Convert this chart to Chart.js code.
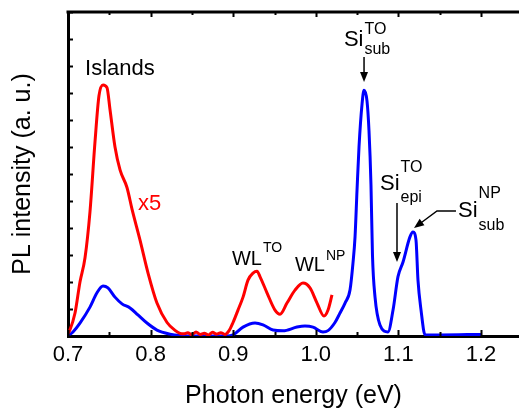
<!DOCTYPE html>
<html>
<head>
<meta charset="utf-8">
<script src="https://cdn.jsdelivr.net/npm/chart.js@4.4.0/dist/chart.umd.min.js"></script>
<style>
    html, body { margin: 0; padding: 0; background: #fff; }
</style>
</head>
<body>
<canvas id="plChart" width="519" height="409"></canvas>
<script>
// #############################################################################
// Data

// Islands + wetting layer, magnified x5 (red)
const redEnergy = [
    0.700, 0.702, 0.7085, 0.7145, 0.7206, 0.7266, 0.7327, 0.7375, 0.7424, 0.7472,
    0.7508, 0.7569, 0.763, 0.7714, 0.7775, 0.7872, 0.7969, 0.8077, 0.8199, 0.830,
    0.8356, 0.840, 0.845, 0.850, 0.855, 0.860, 0.865, 0.870, 0.875, 0.880,
    0.885, 0.890, 0.895, 0.8998, 0.9058, 0.9119, 0.9179, 0.924, 0.9288, 0.9324,
    0.9409, 0.9506, 0.9567, 0.9651, 0.9748, 0.9845, 0.993, 1.0015, 1.0099, 1.0148,
    1.0196,
];
const redIntensity = [
    0.1, 0.2, 0.85, 2.0, 2.9, 4.6, 7.2, 8.9, 9.3, 9.2,
    8.4, 7.0, 6.15, 5.5, 4.7, 3.55, 2.33, 1.22, 0.5, 0.2,
    0.1, 0.08, 0.12, 0.05, 0.15, 0.06, 0.1, 0.04, 0.14, 0.07,
    0.12, 0.06, 0.2, 0.5, 0.96, 1.44, 2.07, 2.33, 2.4, 2.2,
    1.6, 0.96, 0.81, 1.22, 1.7, 1.96, 1.78, 1.22, 0.74, 0.96,
    1.52,
];

// Full spectrum (blue)
const blueEnergy = [
    0.700, 0.706, 0.7145, 0.7266, 0.7351, 0.7424, 0.7484, 0.7569, 0.7654, 0.7751,
    0.7847, 0.7956, 0.8077, 0.8235, 0.8356, 0.860, 0.8925, 0.8998, 0.9119, 0.9264,
    0.9361, 0.9482, 0.9603, 0.9772, 0.9869, 0.9966, 1.0087, 1.0148, 1.0232, 1.0293,
    1.0354, 1.0414, 1.045, 1.0475, 1.0499, 1.0523, 1.056, 1.0584, 1.062, 1.0644,
    1.0668, 1.0686, 1.0717, 1.0777, 1.0874, 1.0935, 1.0995, 1.1056, 1.114, 1.1177,
    1.1213, 1.1237, 1.1274, 1.1322, 1.150, 1.200,
];
const blueIntensity = [
    0, 0.15, 0.48, 1.07, 1.6, 1.85, 1.78, 1.44, 1.19, 1.04,
    0.78, 0.48, 0.22, 0.07, 0.02, 0, 0, 0.04, 0.33, 0.48,
    0.41, 0.22, 0.19, 0.33, 0.37, 0.33, 0.15, 0.2, 0.5, 0.85,
    1.22, 1.7, 2.7, 3.67, 5.4, 7.0, 8.6, 9.1, 8.7, 7.6,
    5.6, 3.0, 1.44, 0.41, 0.15, 0.96, 2.2, 2.74, 3.67, 3.85,
    3.55, 2.07, 0.96, 0.05, 0.04, 0.06,
];

// Axis ticks
const xTicks = [0.7, 0.8, 0.9, 1.0, 1.1, 1.2];
const xMinorTicks = [0.75, 0.85, 0.95, 1.05, 1.15];
const yTicks = [0, 1, 2, 3, 4, 5, 6, 7, 8, 9, 10, 11, 12];

const fontFamily = "'Liberation Sans', Arial, Helvetica, sans-serif";

// #############################################################################
// Annotations: main text + optional superscript / subscript

const labels = [
    { x: 0.7206, y: 9.667, text: "Islands", size: 22, color: "#000" },
    { x: 0.7847, y: 4.667, text: "x5", size: 22, color: "#ff0000" },
    { x: 0.8985, y: 2.63, text: "WL", size: 20, color: "#000", sup: "TO", supSize: 14, supDy: -13 },
    { x: 0.9748, y: 2.4, text: "WL", size: 20, color: "#000", sup: "NP", supSize: 14, supDy: -11 },
    { x: 1.034, y: 10.74, text: "Si", size: 22, color: "#000", sup: "TO", supSize: 16, supDy: -12, sub: "sub", subDy: 8 },
    { x: 1.0777, y: 5.41, text: "Si", size: 22, color: "#000", sup: "TO", supSize: 16, supDy: -18, sub: "epi", subDy: 12 },
    { x: 1.1722, y: 4.41, text: "Si", size: 22, color: "#000", sup: "NP", supSize: 16, supDy: -19, sub: "sub", subDy: 13 },
];

const arrows = [
    [[1.0584, 10.33], [1.0584, 9.41]],
    [[1.0983, 4.93], [1.0983, 2.74]],
    [[1.1697, 4.63], [1.1467, 4.63], [1.1189, 4.0]],
];

// #############################################################################
// Plugin: inward tick marks, top frame line and annotations

const framePlugin = {
    id: "framePlugin",
    afterDraw(chart) {
        const { ctx, chartArea, scales } = chart;
        const xs = scales.x;
        const ys = scales.y;
        ctx.save();
        ctx.strokeStyle = "#000";

        // top frame
        ctx.lineWidth = 3;
        ctx.beginPath();
        ctx.moveTo(chartArea.left - 1.5, chartArea.top);
        ctx.lineTo(chart.width, chartArea.top);
        ctx.stroke();

        // x ticks (bottom and top)
        ctx.lineWidth = 2;
        const xTick = (v, len) => {
            const px = Math.round(xs.getPixelForValue(v)) + 0.5;
            ctx.beginPath();
            ctx.moveTo(px, chartArea.bottom);
            ctx.lineTo(px, chartArea.bottom - len);
            ctx.moveTo(px, chartArea.top);
            ctx.lineTo(px, chartArea.top + len - 1);
            ctx.stroke();
        };
        xTicks.forEach((v) => xTick(v, 6));
        xMinorTicks.forEach((v) => xTick(v, 4));

        // y ticks
        yTicks.forEach((v) => {
            const py = Math.round(ys.getPixelForValue(v)) + 0.5;
            ctx.beginPath();
            ctx.moveTo(chartArea.left, py);
            ctx.lineTo(chartArea.left + 5, py);
            ctx.stroke();
        });

        // arrows
        arrows.forEach((pts) => {
            const p = pts.map(([e, i]) => [xs.getPixelForValue(e), ys.getPixelForValue(i)]);
            const [tx, ty] = p[p.length - 1];
            const [fx, fy] = p[p.length - 2];
            const ang = Math.atan2(ty - fy, tx - fx);
            const head = 10;
            ctx.lineWidth = 1.5;
            ctx.beginPath();
            ctx.moveTo(p[0][0], p[0][1]);
            for (let k = 1; k < p.length - 1; k++) ctx.lineTo(p[k][0], p[k][1]);
            ctx.lineTo(tx - head * 0.8 * Math.cos(ang), ty - head * 0.8 * Math.sin(ang));
            ctx.stroke();
            ctx.fillStyle = "#000";
            ctx.beginPath();
            ctx.moveTo(tx, ty);
            ctx.lineTo(tx - head * Math.cos(ang) + 4 * Math.sin(ang), ty - head * Math.sin(ang) - 4 * Math.cos(ang));
            ctx.lineTo(tx - head * Math.cos(ang) - 4 * Math.sin(ang), ty - head * Math.sin(ang) + 4 * Math.cos(ang));
            ctx.closePath();
            ctx.fill();
        });

        // labels
        ctx.textBaseline = "alphabetic";
        ctx.textAlign = "left";
        labels.forEach((l) => {
            const px = xs.getPixelForValue(l.x);
            const py = ys.getPixelForValue(l.y);
            ctx.fillStyle = l.color;
            ctx.font = `${l.size}px ${fontFamily}`;
            ctx.fillText(l.text, px, py);
            const w = ctx.measureText(l.text).width + 1;
            ctx.font = `${l.supSize || 15}px ${fontFamily}`;
            if (l.sup) ctx.fillText(l.sup, px + w, py + l.supDy);
            if (l.sub) ctx.fillText(l.sub, px + w, py + l.subDy);
        });

        ctx.restore();
    },
};

// #############################################################################
// Chart

const toPoints = (xArr, yArr) => xArr.map((x, i) => ({ x: x, y: yArr[i] }));

const ctx = document.getElementById("plChart").getContext("2d");
const chart = new Chart(ctx, {
    type: "line",
    data: {
        datasets: [
            {
                label: "x5",
                data: toPoints(redEnergy, redIntensity),
                borderColor: "#ff0000",
                borderWidth: 3,
                pointRadius: 0,
                cubicInterpolationMode: "monotone",
                borderJoinStyle: "round",
                fill: false,
            },
            {
                label: "PL",
                data: toPoints(blueEnergy, blueIntensity),
                borderColor: "#0000ff",
                borderWidth: 3,
                pointRadius: 0,
                cubicInterpolationMode: "monotone",
                borderJoinStyle: "round",
                fill: false,
            },
        ],
    },
    options: {
        responsive: false,
        animation: false,
        devicePixelRatio: 1,
        layout: { padding: { top: 12, right: 0, bottom: 0, left: 0 } },
        plugins: {
            legend: { display: false },
            tooltip: { enabled: false },
        },
        scales: {
            x: {
                type: "linear",
                min: 0.7,
                max: 1.246,
                afterBuildTicks: (scale) => {
                    scale.ticks = xTicks.map((v) => ({ value: v }));
                },
                afterFit: (scale) => {
                    scale.height = 73;
                },
                grid: { display: false, drawTicks: false },
                border: { display: true, color: "#000", width: 3 },
                ticks: {
                    color: "#000",
                    padding: 6,
                    maxRotation: 0,
                    font: { family: fontFamily, size: 22 },
                    callback: (v) => v.toFixed(1),
                },
                title: {
                    display: true,
                    text: "Photon energy (eV)",
                    color: "#000",
                    padding: 0,
                    font: { family: fontFamily, size: 25, lineHeight: 1 },
                },
            },
            y: {
                min: 0,
                max: 12,
                afterBuildTicks: (scale) => {
                    scale.ticks = yTicks.map((v) => ({ value: v }));
                },
                afterFit: (scale) => {
                    scale.width = 68;
                },
                grid: { display: false, drawTicks: false },
                border: { display: true, color: "#000", width: 3 },
                ticks: { display: false },
                title: {
                    display: true,
                    text: "PL intensity (a. u.)",
                    color: "#000",
                    padding: { top: 8, bottom: 0 },
                    font: { family: fontFamily, size: 25 },
                },
            },
        },
    },
    plugins: [framePlugin],
});
</script>
</body>
</html>
